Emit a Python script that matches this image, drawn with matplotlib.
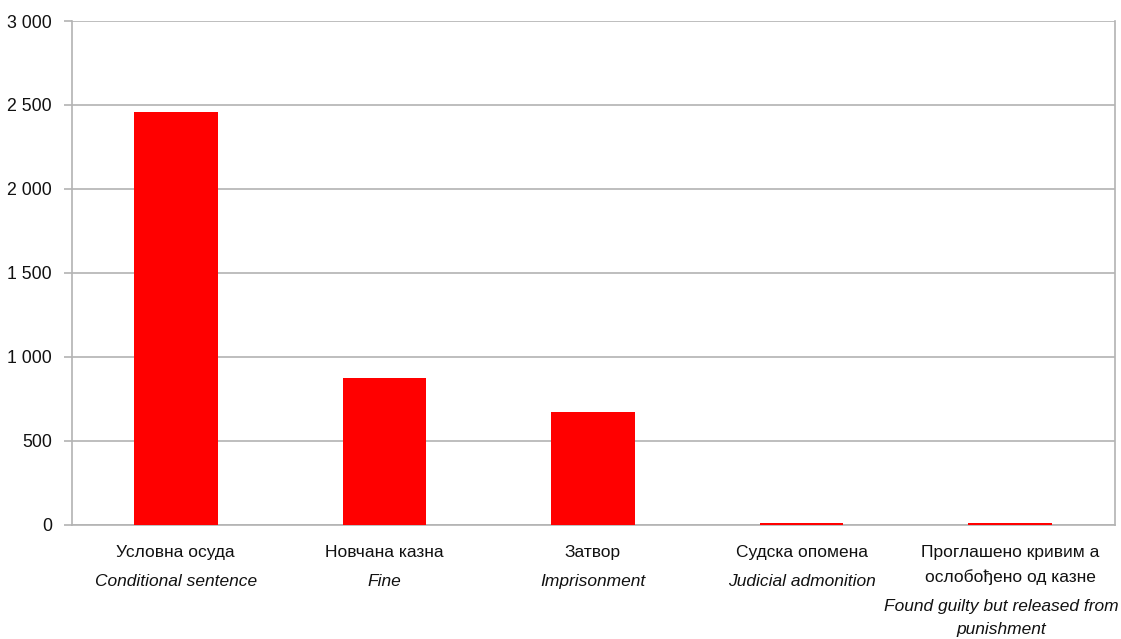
import matplotlib
matplotlib.use("Agg")
import matplotlib.pyplot as plt
from matplotlib.ticker import FuncFormatter

# Data
categories_sr = ["Условна осуда", "Новчана казна", "Затвор", "Судска опомена",
                 "Проглашено кривим а\nослобођено од казне"]
categories_en = ["Conditional sentence", "Fine", "Imprisonment", "Judicial admonition",
                 "Found guilty but released from\npunishment"]
values = [2458, 875, 670, 10, 6]
yticks = [0, 500, 1000, 1500, 2000, 2500, 3000]

FAM = ["Liberation Sans Narrow", "Liberation Sans", "DejaVu Sans"]
plt.rcParams["font.family"] = FAM

W, H = 1121, 639
fig = plt.figure(figsize=(W / 100, H / 100), dpi=100)
left, right, top, bottom = 71.5, 1114.5, 21, 524.5
ax = fig.add_axes([left / W, 1 - bottom / H, (right - left) / W, (bottom - top) / H])

grey = "#b3b3b3"
x = list(range(len(values)))
ax.bar(x, values, width=0.4, color="#ff0000", zorder=3)
ax.set_xlim(-0.5, len(values) - 0.5)
ax.set_ylim(0, 3000)
ax.set_yticks(yticks)
ax.yaxis.set_major_formatter(FuncFormatter(lambda v, p: f"{int(v):,}".replace(",", " ")))
ax.grid(axis="y", color=grey, linewidth=1.2, zorder=0)
for s in ["left", "right", "bottom"]:
    ax.spines[s].set_color(grey)
    ax.spines[s].set_linewidth(1.2)
ax.spines["top"].set_visible(False)
ax.tick_params(axis="y", length=6, width=1.2, color=grey, labelsize=12.8, pad=8,
               labelcolor="#111111")
ax.set_xticks([])

fs = 12.5
for i, (sr, en) in enumerate(zip(categories_sr, categories_en)):
    dx = -9 if i == len(values) - 1 else 0
    off = 28
    for ln in sr.split("\n"):
        ax.annotate(ln, xy=(i, 0), xycoords=("data", "axes fraction"),
                    xytext=(0, -off), textcoords="offset pixels",
                    ha="center", va="center", fontsize=fs, color="#111111")
        off += 25
    off += 4
    for ln in en.split("\n"):
        ax.annotate(ln, xy=(i, 0), xycoords=("data", "axes fraction"),
                    xytext=(dx, -off), textcoords="offset pixels",
                    ha="center", va="center", fontsize=fs, style="italic",
                    color="#111111")
        off += 23

fig.savefig("out.png", dpi=100)
